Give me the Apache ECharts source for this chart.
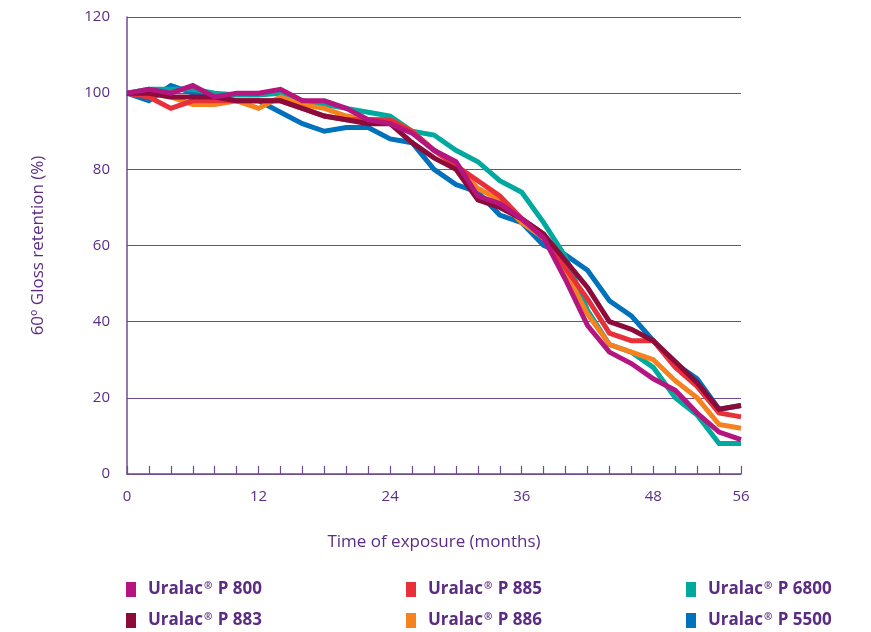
<!DOCTYPE html>
<html>
<head>
<meta charset="utf-8">
<script src="https://cdn.jsdelivr.net/npm/echarts@6/dist/echarts.min.js"></script>
<style>
html,body{margin:0;padding:0;background:#fff;}
#chart{width:871px;height:632px;}
</style>
</head>
<body>
<div id="chart"></div>
<script>
const months = [0,2,4,6,8,10,12,14,16,18,20,22,24,26,28,30,32,34,36,38,40,42,44,46,48,50,52,54,56];
const xLabels = [0,12,24,36,48,56];
const yTicks = [0,20,40,60,80,100,120];

const p800  = [100,101,100,102,99,100,100,101,98,98,96,93,92,89.5,85,82,73,71,67,62,51,39,32,29,25,22,16,11,9];
const p885  = [100,99,96,98,98,98,98,98,96,94,93,93,93,90,85,81,77,73,67,63,54,46,37,35,35,28,23,16,15];
const p6800 = [100,101,101,101,100,99.5,99.5,100,98,97,96,95,94,90,89,85,82,77,74,66,57,43,34,32,28,20,15.5,8,8];
const p883  = [100,100,99,99,99,98,98,98,96,94,93,92,92,87,83,80,72,70,67,63,56,49,40,38,35,29.5,24,17,18];
const p886  = [100,100,99,97,97,98,96,99,97,96,94,93,93,90,85,81,75,72,66,62,53,42,34,32,30,24.5,20,13,12];
const p5500 = [100,98,102,100,99,98,98,95,92,90,91,91,88,87,80,76,74,68,66,60,57.5,53.5,45.5,41.5,35,29,25,17,18];

const names = ['Uralac® P 800','Uralac® P 885','Uralac® P 6800','Uralac® P 883','Uralac® P 886','Uralac® P 5500'];
const colors = {
  'Uralac® P 800':'#b5157f',
  'Uralac® P 885':'#e8303a',
  'Uralac® P 6800':'#00a99d',
  'Uralac® P 883':'#8b0b3b',
  'Uralac® P 886':'#f5821f',
  'Uralac® P 5500':'#0071bb'
};
const values = {
  'Uralac® P 800':p800,
  'Uralac® P 885':p885,
  'Uralac® P 6800':p6800,
  'Uralac® P 883':p883,
  'Uralac® P 886':p886,
  'Uralac® P 5500':p5500
};
// drawing order (bottom -> top)
const drawOrder = ['Uralac® P 5500','Uralac® P 6800','Uralac® P 886','Uralac® P 885','Uralac® P 883','Uralac® P 800'];

const purple = '#5b2c83';
const gridPurple = '#6e4b92';
const font = '"Open Sans", sans-serif';

const series = drawOrder.map(n => ({
  name: n,
  type: 'line',
  data: months.map((m,i) => [m, values[n][i]]),
  showSymbol: false,
  symbol: 'none',
  lineStyle: {width: 5, color: colors[n], join: 'miter'},
  itemStyle: {color: colors[n]},
  emphasis: {disabled: true},
  animation: false
}));

function legendFmt(name){
  const rest = name.replace('Uralac®','');
  return '{a|Uralac}{s|®}{a|' + rest + '}';
}
const legendText = {
  color: purple,
  fontFamily: font,
  fontWeight: 'bold',
  fontSize: 17,
  padding: [0,0,0,7],
  rich: {
    a: {color: purple, fontFamily: font, fontWeight: 'bold', fontSize: 17},
    s: {color: purple, fontFamily: font, fontWeight: 'bold', fontSize: 10, verticalAlign: 'top', padding:[0,1,7,1]}
  }
};
function mkLegend(left, items){
  return {
    left: left, top: 581, orient: 'vertical',
    itemWidth: 10, itemHeight: 15, itemGap: 14,
    icon: 'rect',
    data: items,
    formatter: legendFmt,
    textStyle: legendText,
    selectedMode: false,
    padding: 0
  };
}

const chart = echarts.init(document.getElementById('chart'), null, {renderer: 'canvas'});
chart.setOption({
  animation: false,
  backgroundColor: '#ffffff',
  grid: {left: 127, right: 130, top: 17, bottom: 158, containLabel: false},
  xAxis: {
    type: 'value', min: 0, max: 56, interval: 2,
    name: 'Time of exposure (months)', nameLocation: 'middle', nameGap: 60,
    nameTextStyle: {color: purple, fontFamily: font, fontSize: 17},
    axisLine: {show: true, lineStyle: {color: gridPurple, width: 1.5}},
    axisTick: {show: true, inside: true, length: 8, lineStyle: {color: gridPurple, width: 1.2}},
    axisLabel: {
      color: purple, fontFamily: font, fontSize: 15, margin: 15,
      formatter: v => xLabels.indexOf(v) >= 0 ? String(v) : ''
    },
    splitLine: {show: false}
  },
  yAxis: {
    type: 'value', min: 0, max: 120, interval: 20,
    name: '60º Gloss retention (%)', nameLocation: 'middle', nameGap: 80, nameRotate: 90,
    nameTextStyle: {color: purple, fontFamily: font, fontSize: 17},
    axisLine: {show: true, lineStyle: {color: gridPurple, width: 1.5}},
    axisTick: {show: false},
    axisLabel: {color: purple, fontFamily: font, fontSize: 15, margin: 17},
    splitLine: {show: true, lineStyle: {color: gridPurple, width: 1}}
  },
  legend: [
    mkLegend(126, ['Uralac® P 800','Uralac® P 883']),
    mkLegend(406, ['Uralac® P 885','Uralac® P 886']),
    mkLegend(686, ['Uralac® P 6800','Uralac® P 5500'])
  ],
  series: series
});
</script>
</body>
</html>
